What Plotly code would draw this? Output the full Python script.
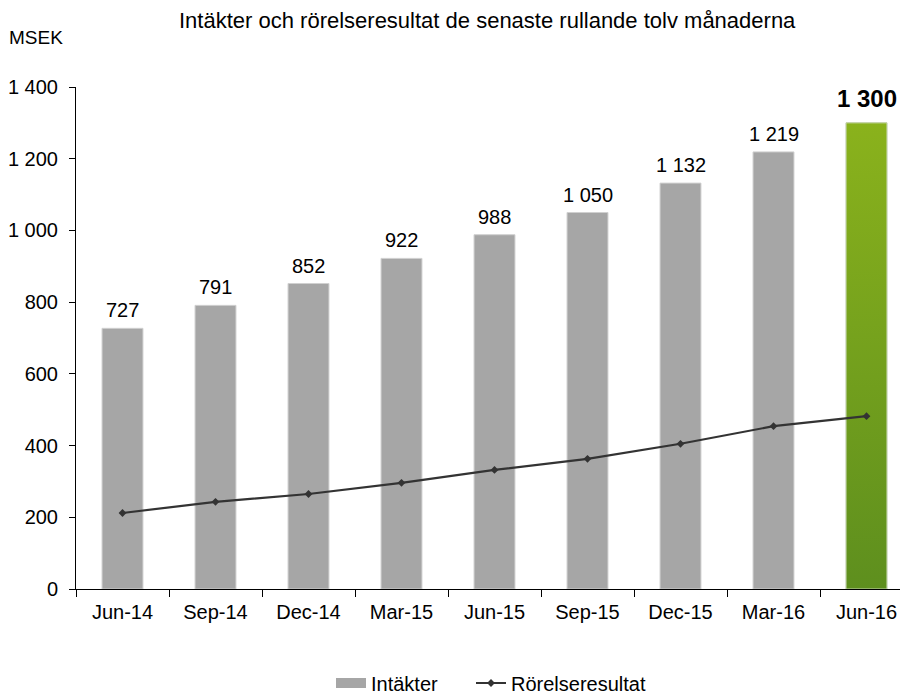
import plotly.graph_objects as go

categories = ["Jun-14", "Sep-14", "Dec-14", "Mar-15", "Jun-15", "Sep-15", "Dec-15", "Mar-16", "Jun-16"]
intakter = [727, 791, 852, 922, 988, 1050, 1132, 1219, 1300]
rorelseresultat = [212, 243, 265, 296, 332, 363, 405, 454, 482]
intakter_labels = ["727", "791", "852", "922", "988", "1 050", "1 132", "1 219", "1 300"]
y_ticks = [0, 200, 400, 600, 800, 1000, 1200, 1400]

FONT = "Arial, 'Liberation Sans', sans-serif"
GREY = "#A6A6A6"
BAR_W = 0.44

xs = list(range(len(categories)))
bar_colors = [GREY] * (len(categories) - 1) + ["#74A01E"]

fig = go.Figure()
fig.add_trace(go.Bar(
    x=xs, y=intakter, width=BAR_W, name="Intäkter",
    marker=dict(color=bar_colors, line=dict(color="#D0D0D0", width=1)),
    showlegend=False,
))
# gradient overlay on highlighted last bar
last = len(categories) - 1
fig.add_trace(go.Scatter(
    x=[last - BAR_W / 2, last + BAR_W / 2, last + BAR_W / 2, last - BAR_W / 2, last - BAR_W / 2],
    y=[0, 0, intakter[last], intakter[last], 0],
    mode="lines", fill="toself", line=dict(width=1, color="#C8D8B0"),
    fillgradient=dict(type="vertical", colorscale=[[0, "#5E8F1E"], [1, "#8AB21C"]]),
    showlegend=False, hoverinfo="skip",
))
# legend entry for the bars (wide grey patch)
fig.add_trace(go.Scatter(
    x=[None], y=[None], mode="lines", name="Intäkter",
    line=dict(color=GREY, width=10), legend="legend",
))
fig.add_trace(go.Scatter(
    x=xs, y=rorelseresultat, name="Rörelseresultat", mode="lines+markers",
    line=dict(color="#333333", width=2.2),
    marker=dict(symbol="diamond", size=6, color="#333333"),
    legend="legend2",
))

for i, (v, t) in enumerate(zip(intakter, intakter_labels)):
    bold = i == last
    fig.add_annotation(
        x=i, y=v, text=f"<b>{t}</b>" if bold else t, showarrow=False,
        yanchor="bottom", yshift=9 if bold else 5,
        font=dict(family=FONT, size=24 if bold else 20, color="#000000"),
    )

fig.add_annotation(
    xref="paper", yref="paper", x=(487 - 76) / 832, y=1 + (87 - 20) / 502,
    text="Intäkter och rörelseresultat de senaste rullande tolv månaderna",
    showarrow=False, xanchor="center", yanchor="middle",
    font=dict(family=FONT, size=22, color="#000000"),
)
fig.add_annotation(
    xref="paper", yref="paper", x=-(76 - 7) / 832, y=1 + (87 - 37) / 502,
    text="MSEK", showarrow=False, xanchor="left", yanchor="middle",
    font=dict(family=FONT, size=19, color="#000000"),
)

leg_common = dict(
    orientation="h", yref="container", y=(688 - 675) / 688, yanchor="middle", xanchor="left",
    font=dict(family=FONT, size=20, color="#000000"), bgcolor="rgba(0,0,0,0)",
)

# page body adds an 8px offset, so the figure is 8px smaller than the window
fig.update_layout(
    width=900, height=688,
    margin=dict(l=68, r=0, t=79, b=107),
    paper_bgcolor="white", plot_bgcolor="white",
    separators=". ",
    font=dict(family=FONT, size=20, color="#000000"),
    legend=dict(x=(331 - 76) / 832, **leg_common),
    legend2=dict(x=(471 - 76) / 832, **leg_common),
    xaxis=dict(
        range=[-0.5, -0.5 + 832 / 93],
        tickmode="array", tickvals=xs, ticktext=categories,
        ticks="", showgrid=False, zeroline=False,
        showline=True, linecolor="#000000", linewidth=1,
        tickfont=dict(family=FONT, size=20, color="#000000"),
        ticklabelstandoff=5,
        minor=dict(tickmode="array", tickvals=[i - 0.5 for i in range(len(categories) + 1)],
                   ticks="outside", ticklen=7, tickcolor="#000000", tickwidth=1, showgrid=False),
        automargin=False, fixedrange=True,
    ),
    yaxis=dict(
        range=[0, 1400], tickmode="array", tickvals=y_ticks, tickformat=",d",
        ticks="outside", ticklen=6, tickcolor="#000000",
        showgrid=False, zeroline=False,
        showline=True, linecolor="#000000", linewidth=1,
        tickfont=dict(family=FONT, size=20, color="#000000"),
        ticklabelstandoff=7,
        automargin=False, fixedrange=True,
    ),
)

fig.write_html("out.html")
